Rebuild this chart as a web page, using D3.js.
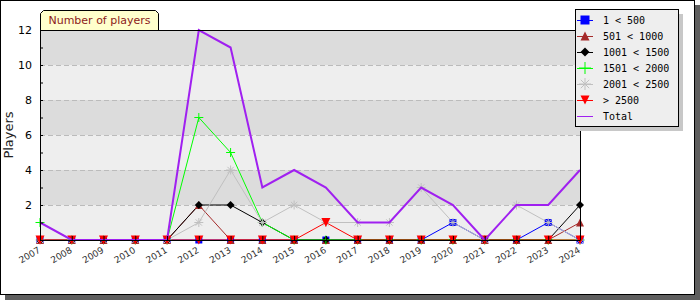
<!DOCTYPE html>
<html>
<head>
<meta charset="utf-8">
<script src="https://cdn.jsdelivr.net/npm/d3@7"></script>
<style>
  body { margin: 0; background: #fff; }
</style>
</head>
<body>
<div class="chart"></div>
<script>
// data
var years = [2007, 2008, 2009, 2010, 2011, 2012, 2013, 2014, 2015, 2016, 2017, 2018, 2019, 2020, 2021, 2022, 2023, 2024];
var s1to500     = [0, 0, 0, 0, 0, 0, 0, 0, 0, 0, 0, 0, 0, 1, 0, 0, 1, 0];
var s501to1000  = [0, 0, 0, 0, 0, 2, 0, 0, 0, 0, 0, 0, 0, 0, 0, 0, 0, 1];
var s1001to1500 = [0, 0, 0, 0, 0, 2, 2, 1, 0, 0, 0, 0, 0, 0, 0, 0, 0, 2];
var s1501to2000 = [1, 0, 0, 0, 0, 7, 5, 1, 0, 0, 0, 0, 0, 0, 0, 0, 0, 0];
var s2001to2500 = [0, 0, 0, 0, 0, 1, 4, 1, 2, 1, 1, 1, 3, 1, 0, 2, 1, 0];
var sOver2500   = [0, 0, 0, 0, 0, 0, 0, 0, 0, 1, 0, 0, 0, 0, 0, 0, 0, 0];
var total       = [1, 0, 0, 0, 0, 12, 11, 3, 4, 3, 1, 1, 3, 2, 0, 2, 2, 4];
var seriesNames = ["1 < 500", "501 < 1000", "1001 < 1500", "1501 < 2000", "2001 < 2500", "> 2500", "Total"];
var yTicks = [0, 1, 2, 3, 4, 5, 6, 7, 8, 9, 10, 11, 12];

var series = [
  {name: seriesNames[0], values: s1to500, color: "#0000ff", mark: "square"},
  {name: seriesNames[1], values: s501to1000, color: "#a52a2a", mark: "up"},
  {name: seriesNames[2], values: s1001to1500, color: "#000000", mark: "diamond"},
  {name: seriesNames[3], values: s1501to2000, color: "#00ff00", mark: "plus"},
  {name: seriesNames[4], values: s2001to2500, color: "#c0c0c0", mark: "star"},
  {name: seriesNames[5], values: sOver2500, color: "#ff0000", mark: "down"}
];

var W = 700, H = 300;
var pLeft = 40, pRight = 580, pTop = 30, pBottom = 240;
var font = "DejaVu Sans, Verdana, sans-serif";

var svg = d3.select(".chart").append("svg")
    .attr("width", W)
    .attr("height", H)
    .style("font-family", font);

// frame with shadow
svg.append("rect").attr("x", 5).attr("y", 5).attr("width", 695).attr("height", 295).attr("fill", "#5f5f5f");
svg.append("rect").attr("x", 0.5).attr("y", 0.5).attr("width", 694).attr("height", 294)
    .attr("fill", "#fff").attr("stroke", "#000");

var x = d3.scalePoint().domain(years).range([pLeft, pRight]);
var y = d3.scaleLinear().domain([0, 12]).range([pBottom, pTop]);

// bands
var bands = d3.range(0, 12, 2);
svg.selectAll(".band").data(bands).enter().append("rect")
    .attr("x", pLeft).attr("width", pRight - pLeft)
    .attr("y", function(d){ return y(d + 2); })
    .attr("height", function(d){ return y(d) - y(d + 2); })
    .attr("fill", function(d){ return (d / 2) % 2 === 0 ? "#eeeeee" : "#dcdcdc"; });

// grid
svg.selectAll(".grid").data([2, 4, 6, 8, 10]).enter().append("line")
    .attr("x1", pLeft).attr("x2", pRight)
    .attr("y1", function(d){ return y(d) + 0.5; })
    .attr("y2", function(d){ return y(d) + 0.5; })
    .attr("stroke", "#bbbbbb").attr("stroke-dasharray", "5,3");

// title tab
var tx0 = 40, tx1 = 159, ty0 = 10, ty1 = 30;
svg.append("path")
    .attr("d", "M" + (tx0 + 0.5) + "," + ty1 + "V" + (ty0 + 3.5) + "L" + (tx0 + 3.5) + "," + (ty0 + 0.5) +
      "H" + (tx1 - 3.5) + "L" + (tx1 - 0.5) + "," + (ty0 + 3.5) + "V" + ty1)
    .attr("fill", "#ffffcc").attr("stroke", "#000");
svg.append("text").text("Number of players")
    .attr("x", (tx0 + tx1) / 2).attr("y", 24)
    .attr("text-anchor", "middle").attr("font-size", "11px").attr("fill", "#8b1a1a");

// marker drawing
function drawMark(g, mark, color, s) {
  if (mark === "square") {
    g.append("rect").attr("x", -s / 2).attr("y", -s / 2).attr("width", s).attr("height", s).attr("fill", color);
  } else if (mark === "up") {
    g.append("path").attr("d", "M0," + (-s / 2) + "L" + (s / 2) + "," + (s / 2) + "L" + (-s / 2) + "," + (s / 2) + "Z").attr("fill", color);
  } else if (mark === "down") {
    g.append("path").attr("d", "M0," + (s / 2) + "L" + (s / 2) + "," + (-s / 2) + "L" + (-s / 2) + "," + (-s / 2) + "Z").attr("fill", color);
  } else if (mark === "diamond") {
    g.append("path").attr("d", "M0," + (-s / 2) + "L" + (s / 2) + ",0L0," + (s / 2) + "L" + (-s / 2) + ",0Z").attr("fill", color);
  } else if (mark === "plus") {
    g.append("path").attr("d", "M" + (-s / 2) + ",0H" + (s / 2) + "M0," + (-s / 2) + "V" + (s / 2))
      .attr("stroke", color).attr("fill", "none");
  } else if (mark === "star") {
    var r = s / 2, d = r * 0.7;
    g.append("path").attr("d", "M" + (-r) + ",0H" + r + "M0," + (-r) + "V" + r +
      "M" + (-d) + "," + (-d) + "L" + d + "," + d + "M" + (-d) + "," + d + "L" + d + "," + (-d))
      .attr("stroke", color).attr("fill", "none");
  }
}

var line = d3.line()
    .x(function(d, i){ return x(years[i]); })
    .y(function(d){ return y(d); });

// series lines
series.forEach(function(s){
  svg.append("path").attr("d", line(s.values))
    .attr("fill", "none").attr("stroke", s.color).attr("stroke-width", 1);
});

// markers
var markSize = {square: 7, up: 8, down: 9, diamond: 8, plus: 9, star: 9};
series.forEach(function(s){
  s.values.forEach(function(v, i){
    var g = svg.append("g").attr("transform", "translate(" + x(years[i]) + "," + y(v) + ")");
    drawMark(g, s.mark, s.color, markSize[s.mark]);
  });
});

// total on top
svg.append("path").attr("d", line(total))
    .attr("fill", "none").attr("stroke", "#a020f0").attr("stroke-width", 2);

// axes
var xAxis = d3.axisBottom(x).tickSizeInner(-4).tickSizeOuter(0).tickFormat("");
svg.append("g").attr("transform", "translate(0," + pBottom + ")").call(xAxis)
    .call(function(g){ g.selectAll("line,path").attr("stroke", "#000"); });

svg.selectAll(".xlab").data(years).enter().append("text")
    .text(function(d){ return d; })
    .attr("text-anchor", "end")
    .attr("font-size", "9px")
    .attr("fill", "#333")
    .attr("transform", function(d){ return "translate(" + (x(d) + 1) + "," + (pBottom + 12) + ") rotate(-30)"; });

var yAxis = d3.axisLeft(y).tickValues(yTicks).tickSizeInner(-3).tickSizeOuter(0)
    .tickPadding(8)
    .tickFormat(function(d){ return (d > 0 && d % 2 === 0) ? d : ""; });
svg.append("g").attr("transform", "translate(" + pLeft + ",0)").call(yAxis)
    .call(function(g){
      g.selectAll("line,path").attr("stroke", "#000");
      g.selectAll("text").attr("font-size", "11px").attr("fill", "#000")
        .attr("font-family", font);
    });

// top and right frame of plot
svg.append("path")
    .attr("d", "M" + pLeft + "," + (pTop + 0.5) + "H" + (pRight + 0.5) + "V" + pBottom)
    .attr("fill", "none").attr("stroke", "#000");

// y label
svg.append("text").text("Players")
    .attr("text-anchor", "middle").attr("font-size", "13px").attr("fill", "#222")
    .attr("transform", "translate(13," + ((pTop + pBottom) / 2) + ") rotate(-90)");

// legend
var lx = 575, ly = 9, lw = 103, lh = 117;
svg.append("rect").attr("x", lx + 5).attr("y", ly + 5).attr("width", lw).attr("height", lh).attr("fill", "#c8c8c8");
svg.append("rect").attr("x", lx + 0.5).attr("y", ly + 0.5).attr("width", lw).attr("height", lh)
    .attr("fill", "#eeeeee").attr("stroke", "#000");

var legendItems = series.concat([{name: seriesNames[6], color: "#a020f0", mark: null}]);
legendItems.forEach(function(s, i){
  var cy = ly + 11 + i * 16;
  var g = svg.append("g").attr("transform", "translate(" + (lx + 10) + "," + cy + ")");
  g.append("line").attr("x1", -8).attr("x2", 8).attr("y1", 0.5).attr("y2", 0.5)
    .attr("stroke", s.color).attr("stroke-width", 1);
  if (s.mark) drawMark(g, s.mark, s.color, s.mark === "plus" || s.mark === "star" ? 12 : 9);
  svg.append("text").text(s.name)
    .attr("x", lx + 28).attr("y", cy + 4)
    .attr("font-size", "10px")
    .attr("font-family", "DejaVu Sans Mono, monospace")
    .attr("fill", "#000")
    .style("white-space", "pre");
});
</script>
</body>
</html>
